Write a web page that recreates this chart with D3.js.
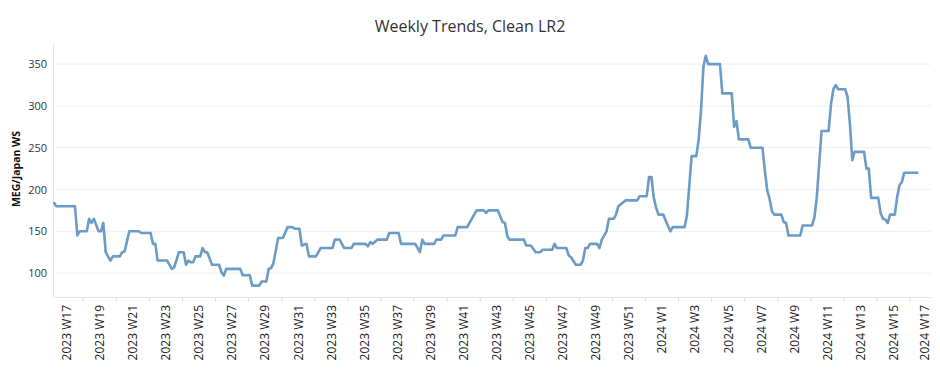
<!DOCTYPE html>
<html><head><meta charset="utf-8">
<script src="https://cdn.jsdelivr.net/npm/d3@7"></script>
<style>
html,body{margin:0;padding:0;background:#fff;}
svg{display:block;font-family:"Open Sans","Noto Sans",sans-serif;}
</style></head>
<body><svg id="chart" width="940" height="392"></svg>
<script>
// ---- data ----
const startDate = "2023-04-21";
const dayOffsets = [0,1,9,10,11,14,15,16,17,19,20,21,22,23,24,25,28,29,30,32,36,37,41,42,43,44,48,50,51,53,55,56,57,58,59,60,62,63,64,65,67,70,71,72,73,79,80,83,84,87,88,90,91,92,93,95,97,99,101,102,104,105,107,108,111,113,118,119,121,123,126,127,132,133,134,135,137,141,142,146,147,153,155,156,157,161,162,164,165,170,171,175,176,179,182,183,184,188,190,191,192,193,199,200,202,204,206,207,211,212,213,217,218,219,221,223,224,225,226,227,230,231,232,234,235,237,238,239,242,247,248,251,252,253,254,255,256,258,259,261,262,267,268,270,272,273,274,275,276,277,282,283,287,288,289,290,294,295,300,301,302,303,304,305,308,309,310,311,316,317,321,322,323,325,328,329,330,331,332,335,336,337,338,339,343,344,345,346,349,350,351,352,353,354,356,357,358,359,360,366];
const wsValues = [185,180,180,145,150,150,165,160,165,150,150,160,125,120,115,120,120,125,126,150,150,148,148,135,135,115,115,105,107,125,125,110,115,113,113,120,120,130,125,125,110,110,101,97,105,105,97.5,97.5,85,85,90,90,105,106,112,142,142,155,155,153,153,133,135,120,120,130,130,140,140,130,130,135,135,132,137,135,140,140,148,148,135,135,125,140,135,135,140,140,145,145,155,155,160,175,175,172,175,175,161,160,144,140,140,133,133,125,125,128,128,135,130,130,121,119,110,110,115,130,130,135,135,130,140,150,165,165,170,180,187,187,192,192,215,215,190,178,170,170,163,150,155,155,168,240,240,260,295,347,360,350,350,315,315,275,282,260,260,250,250,223,199,189,174,170,170,161,160,145,145,157,157,167,191,270,270,302,320,325,320,320,311,279,235,245,245,225,225,190,190,172,165,164,160,170,170,191,205,209,220,220];
const yTicks = [100,150,200,250,300,350];
const weekLabels = ["2023 W17","2023 W19","2023 W21","2023 W23","2023 W25","2023 W27","2023 W29","2023 W31","2023 W33","2023 W35","2023 W37","2023 W39","2023 W41","2023 W43","2023 W45","2023 W47","2023 W49","2023 W51","2024 W1","2024 W3","2024 W5","2024 W7","2024 W9","2024 W11","2024 W13","2024 W15","2024 W17"];
const firstWeekStartDay = 2;   // 2023 W17 begins 2023-04-23 (day 2)
const titleText = "Weekly Trends, Clean LR2";
const yTitle = "MEG/Japan WS";

// ---- layout ----
const svg = d3.select("#chart");
const L = 53, R = 931, T = 43, B = 297;
const x = d3.scaleLinear().domain([-0.3, 371.33]).range([L, R]);
const y = d3.scaleLinear().domain([71.4, 375.3]).range([B, T]);

// gridlines
svg.append("g").selectAll("line").data(yTicks).join("line")
  .attr("x1", L).attr("x2", R)
  .attr("y1", d => y(d)).attr("y2", d => y(d))
  .attr("stroke", "#efefef").attr("stroke-width", 1);

// axis lines
svg.append("line").attr("x1", L + 0.5).attr("x2", L + 0.5).attr("y1", T).attr("y2", B)
  .attr("stroke", "#e6e6e6");
svg.append("line").attr("x1", L).attr("x2", R).attr("y1", B + 0.5).attr("y2", B + 0.5)
  .attr("stroke", "#e6e6e6");

// y axis labels
const yAxis = d3.axisLeft(y).tickValues(yTicks).tickSize(0).tickPadding(6);
const gy = svg.append("g").attr("transform", `translate(${L - 0},0)`).call(yAxis);
gy.select(".domain").remove();
gy.selectAll("text").attr("fill", "#333").style("font-size", "11px")
  .style("font-family", "'Open Sans','Noto Sans',sans-serif");

// y title
svg.append("text").attr("transform", `translate(20,${(T + B) / 2 - 1}) rotate(-90)`)
  .attr("text-anchor", "middle").attr("font-weight", "bold").attr("font-size", "10.5px")
  .attr("fill", "#111").text(yTitle);

// x week labels (band centres, clipped to the axis)
const dMax = x.domain()[1];
const labelPos = weekLabels.map((lab, i) => {
  const s = firstWeekStartDay + 14 * i, e = Math.min(s + 7, dMax);
  return { lab, d: (s + e) / 2 };
});
svg.append("g").selectAll("text").data(labelPos).join("text")
  .attr("transform", d => `translate(${x(d.d)},305) rotate(-90)`)
  .attr("text-anchor", "end").attr("dy", "0.36em")
  .attr("font-size", "12px").attr("fill", "#222").text(d => d.lab);

// small ticks between labels (unlabelled weeks)
const tickDays = weekLabels.slice(0, -1).map((_, i) => firstWeekStartDay + 14 * i + 7 + 3.5);
svg.append("g").selectAll("line").data(tickDays).join("line")
  .attr("x1", d => x(d)).attr("x2", d => x(d)).attr("y1", B + 1).attr("y2", B + 5)
  .attr("stroke", "#ddd");

// title
svg.append("text").attr("x", 470).attr("y", 32).attr("text-anchor", "middle")
  .attr("font-size", "16px").attr("fill", "#333").text(titleText);

// line
const pts = dayOffsets.map((d, i) => [d, wsValues[i]]);
svg.append("path").datum(pts)
  .attr("fill", "none").attr("stroke", "#6b9bc6").attr("stroke-width", 2.6)
  .attr("stroke-linejoin", "round")
  .attr("d", d3.line().x(p => x(p[0])).y(p => y(p[1])));
</script></body></html>
